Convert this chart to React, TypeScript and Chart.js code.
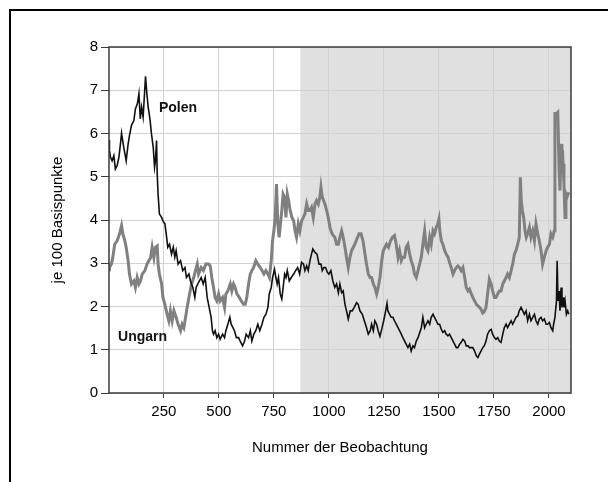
import { useEffect, useRef } from "react";
import { Chart, registerables } from "chart.js";

Chart.register(...registerables);

// Observation numbers and spreads (in 100 basis points)
const polenObs = [1, 3, 8, 15, 23, 30, 38, 46, 53, 58, 68, 79, 88, 94, 103, 114, 121, 130, 137, 143, 149, 156, 167, 173, 179, 187, 194, 202, 208, 212, 217, 220, 224, 230, 240, 246, 255, 261, 268, 276, 285, 293, 300, 306, 315, 326, 336, 346, 353, 364, 371, 382, 391, 397,
  408, 420, 429, 438, 447, 456, 465, 471, 476, 483, 491, 499, 506, 517, 526, 532, 541, 550, 556, 564, 571, 580, 590, 597, 608, 617, 624, 635, 643, 650, 659, 668, 677, 686, 696, 705, 714, 723, 729, 738, 744, 753, 759, 765, 771, 779, 786, 794, 799, 805, 811, 820, 829,
  840, 849, 858, 867, 876, 885, 891, 899, 906, 914, 921, 927, 937, 946, 955, 964, 970, 977, 985, 993, 1000, 1009, 1018, 1027, 1035, 1043, 1050, 1058, 1065, 1073, 1080, 1088, 1097, 1106, 1115, 1126, 1133, 1141, 1152, 1161, 1171, 1179, 1188, 1194, 1202, 1209, 1217, 1224, 1232, 1240, 1249, 1258, 1264,
  1268, 1276, 1283, 1291, 1298, 1306, 1314, 1321, 1329, 1336, 1344, 1351, 1359, 1367, 1374, 1382, 1389, 1397, 1405, 1412, 1420, 1427, 1435, 1442, 1450, 1458, 1465, 1473, 1480, 1488, 1495, 1503, 1511, 1518, 1526, 1533, 1541, 1548, 1556, 1564, 1571, 1579, 1586, 1594, 1601, 1609, 1617, 1624, 1632, 1639, 1647, 1654, 1662, 1670, 1677,
  1684, 1691, 1699, 1706, 1714, 1721, 1729, 1737, 1744, 1752, 1759, 1767, 1774, 1782, 1790, 1797, 1805, 1812, 1820, 1828, 1835, 1843, 1850, 1858, 1865, 1873, 1881, 1888, 1896, 1903, 1911, 1918, 1926, 1934, 1941, 1949, 1956, 1964, 1971, 1979, 1987, 1994, 2002, 2009, 2017, 2021, 2027, 2034, 2037, 2041, 2046, 2050, 2055, 2059, 2064, 2068, 2073, 2079, 2085, 2090];
const polenVal = [5.85, 5.61, 5.45, 5.37, 5.49, 5.18, 5.26, 5.45, 5.76, 6.01, 5.68, 5.37, 5.76, 5.95, 6.19, 6.30, 6.57, 6.69, 6.92, 6.34, 6.61, 6.38, 7.32, 6.92, 6.61, 6.34, 5.99, 5.68, 5.22, 5.37, 5.84, 5.07, 4.60, 4.14, 4.06, 3.98, 3.91, 3.68, 3.37, 3.44, 3.21, 3.37, 3.14, 3.29, 2.98, 3.06, 2.83, 2.90, 2.67, 2.75, 2.59, 2.44, 2.21, 2.44,
  2.56, 2.67, 2.52, 2.67, 2.21, 1.98, 1.75, 1.44, 1.36, 1.44, 1.28, 1.36, 1.24, 1.36, 1.28, 1.44, 1.59, 1.75, 1.59, 1.51, 1.44, 1.28, 1.28, 1.20, 1.09, 1.20, 1.36, 1.28, 1.44, 1.20, 1.36, 1.44, 1.59, 1.44, 1.59, 1.75, 1.82, 1.98, 2.29, 2.44, 2.67, 2.86, 2.67, 2.52, 2.67, 2.29, 2.17, 2.52, 2.75, 2.67, 2.83, 2.59, 2.67,
  2.75, 2.83, 2.90, 2.75, 3.02, 2.98, 2.83, 2.94, 2.83, 3.06, 3.21, 3.33, 3.25, 3.21, 2.98, 2.98, 2.83, 2.90, 2.90, 2.79, 2.75, 2.83, 2.59, 2.44, 2.52, 2.32, 2.52, 2.32, 2.36, 2.05, 1.90, 1.71, 1.90, 1.90, 1.98, 2.09, 2.05, 1.90, 1.82, 1.67, 1.51, 1.36, 1.44, 1.59, 1.44, 1.67, 1.59, 1.44, 1.31, 1.47, 1.67, 1.90, 2.07,
  1.90, 1.82, 1.75, 1.75, 1.67, 1.59, 1.51, 1.44, 1.36, 1.28, 1.20, 1.13, 1.05, 1.13, 0.97, 1.09, 1.05, 1.20, 1.28, 1.39, 1.51, 1.75, 1.51, 1.59, 1.67, 1.59, 1.75, 1.82, 1.75, 1.67, 1.59, 1.59, 1.47, 1.40, 1.44, 1.36, 1.32, 1.36, 1.28, 1.20, 1.13, 1.05, 1.05, 1.13, 1.17, 1.24, 1.20, 1.09, 1.09, 1.05, 1.05, 1.05, 0.97, 0.86, 0.82,
  0.90, 0.97, 1.05, 1.09, 1.20, 1.36, 1.44, 1.47, 1.36, 1.28, 1.24, 1.28, 1.20, 1.17, 1.36, 1.51, 1.59, 1.51, 1.59, 1.67, 1.59, 1.67, 1.75, 1.78, 1.90, 1.98, 1.90, 1.82, 1.90, 1.67, 1.82, 1.67, 1.75, 1.82, 1.67, 1.59, 1.71, 1.75, 1.67, 1.71, 1.59, 1.59, 1.63, 1.51, 1.44, 1.59, 1.75, 2.13, 3.06, 2.13, 2.36, 1.90, 2.44, 1.98, 2.21, 1.98, 2.13, 1.82, 1.90, 1.82];

const ungarnObs = [1, 3, 12, 18, 27, 38, 49, 58, 64, 73, 79, 88, 94, 103, 114, 121, 129, 137, 144, 152, 164, 174, 182, 190, 197, 205, 212, 220, 224, 230, 240, 246, 255, 265, 273, 280, 288, 296, 306, 315, 326, 333, 341, 349, 356, 364, 376, 386, 394, 402,
  408, 420, 430, 441, 453, 461, 468, 476, 483, 491, 499, 506, 517, 526, 532, 541, 552, 559, 567, 574, 582, 593, 602, 612, 620, 627, 635, 643, 650, 658, 668, 677, 688, 696, 705, 714, 723, 730, 738, 744, 750, 756, 762, 768, 774, 780, 786, 792, 798, 805, 811, 817, 824, 832,
  840, 846, 853, 861, 868, 876, 884, 891, 899, 906, 914, 921, 929, 937, 944, 952, 959, 964, 970, 976, 982, 990, 997, 1005, 1012, 1020, 1027, 1035, 1043, 1050, 1058, 1065, 1073, 1080, 1088, 1096, 1103, 1111, 1118, 1127, 1137, 1146, 1155, 1164, 1171, 1179, 1187, 1194, 1202, 1209, 1217, 1224, 1232, 1240, 1247, 1255,
  1262, 1271, 1280, 1289, 1298, 1306, 1314, 1321, 1329, 1336, 1344, 1351, 1359, 1367, 1374, 1382, 1389, 1397, 1405, 1412, 1420, 1427, 1435, 1442, 1450, 1458, 1465, 1473, 1480, 1488, 1495, 1500, 1504, 1511, 1518, 1526, 1533, 1541, 1548, 1556, 1564, 1571, 1579, 1586, 1594, 1601, 1609, 1617, 1624, 1632, 1639, 1647, 1654, 1662, 1670,
  1684, 1691, 1699, 1706, 1714, 1721, 1729, 1737, 1744, 1752, 1759, 1767, 1774, 1782, 1790, 1797, 1805, 1812, 1820, 1828, 1835, 1843, 1850, 1858, 1865, 1870, 1874, 1879, 1885, 1891, 1897, 1903, 1911, 1918, 1926, 1934, 1941, 1949, 1956, 1964, 1971, 1979, 1987, 1994, 2002, 2009, 2017, 2024, 2027, 2034, 2040, 2046, 2050, 2055, 2059, 2064, 2068, 2073, 2077, 2082, 2090];
const ungarnVal = [2.85, 2.90, 2.98, 3.13, 3.44, 3.52, 3.68, 3.87, 3.68, 3.52, 3.37, 3.06, 2.75, 2.52, 2.59, 2.44, 2.67, 2.52, 2.59, 2.75, 2.83, 2.98, 3.06, 3.13, 3.37, 3.13, 3.37, 3.40, 2.98, 2.75, 2.52, 2.21, 2.05, 1.82, 1.67, 1.90, 1.67, 1.90, 1.75, 1.59, 1.44, 1.59, 1.51, 1.75, 1.98, 2.21, 2.52, 2.67, 2.83, 2.98,
  2.75, 2.90, 2.83, 2.98, 2.98, 2.94, 2.67, 2.44, 2.21, 2.13, 2.29, 2.13, 2.21, 1.98, 2.29, 2.36, 2.52, 2.36, 2.52, 2.44, 2.29, 2.21, 2.13, 2.05, 2.05, 2.21, 2.52, 2.75, 2.83, 2.90, 3.06, 2.98, 2.90, 2.83, 2.75, 2.83, 2.75, 2.67, 3.06, 3.52, 3.75, 4.06, 4.83, 3.91, 3.60, 3.91, 4.22, 4.60, 4.53, 4.06, 4.60, 4.45, 4.22, 4.06,
  3.98, 3.75, 3.60, 3.91, 3.75, 3.98, 4.06, 4.14, 4.37, 4.22, 4.22, 4.29, 4.06, 4.37, 4.45, 4.37, 4.53, 4.76, 4.53, 4.45, 4.37, 4.22, 4.06, 3.83, 3.71, 3.64, 3.60, 3.44, 3.44, 3.60, 3.75, 3.60, 3.37, 3.14, 2.90, 3.14, 3.29, 3.37, 3.44, 3.56, 3.68, 3.68, 3.52, 3.21, 2.98, 2.75, 2.67, 2.67, 2.52, 2.44, 2.29, 2.44, 2.67, 3.06, 3.29, 3.37,
  3.44, 3.37, 3.52, 3.60, 3.64, 3.44, 3.14, 3.29, 3.06, 3.14, 3.14, 3.37, 3.44, 3.21, 3.06, 2.94, 2.75, 2.67, 2.83, 2.98, 3.14, 3.44, 3.75, 3.37, 3.29, 3.60, 3.44, 3.75, 3.68, 3.83, 3.91, 4.02, 3.75, 3.52, 3.44, 3.29, 3.21, 3.14, 3.02, 2.90, 2.75, 2.83, 2.90, 2.94, 2.90, 2.83, 2.90, 2.67, 2.44, 2.36, 2.40, 2.29, 2.21, 2.13, 2.05,
  1.98, 1.94, 1.85, 1.88, 1.98, 2.29, 2.63, 2.52, 2.36, 2.21, 2.21, 2.29, 2.36, 2.36, 2.52, 2.59, 2.67, 2.75, 2.67, 2.83, 2.98, 3.21, 3.29, 3.44, 3.60, 4.99, 4.45, 4.22, 4.06, 3.75, 3.60, 3.68, 3.83, 3.60, 3.75, 3.52, 3.91, 3.68, 3.52, 3.29, 2.98, 3.14, 3.29, 3.37, 3.44, 3.68, 3.60, 3.75, 6.46, 6.46, 6.49, 5.14, 4.68, 5.76, 5.14, 5.30, 4.83, 4.06, 4.60, 4.53, 4.64];

const xTicks = [250, 500, 750, 1000, 1250, 1500, 1750, 2000];
const yTicks = [0, 1, 2, 3, 4, 5, 6, 7, 8];
const shadeStart = 870;
const seriesNames = ["Polen", "Ungarn"];
const labelObs = [228, 42];
const labelVal = [6.58, 1.29];
const xTitle = "Nummer der Beobachtung";
const yTitle = "je 100 Basispunkte";

const FONT = '"Liberation Sans", Arial, sans-serif';

const decor = {
  id: "decor",
  beforeDraw(chart: any) {
    const { ctx, chartArea: a, scales } = chart;
    const sx = scales.x.getPixelForValue(shadeStart);
    ctx.save();
    ctx.fillStyle = "#e0e0e0";
    ctx.fillRect(sx, a.top, a.right - sx, a.bottom - a.top);
    ctx.restore();
  },
  afterDraw(chart: any) {
    const { ctx, chartArea: a, scales } = chart;
    ctx.save();
    ctx.strokeStyle = "#3a3a3a";
    ctx.lineWidth = 1.5;
    ctx.strokeRect(a.left, a.top, a.right - a.left, a.bottom - a.top);
    ctx.fillStyle = "#111";
    ctx.font = `bold 14px ${FONT}`;
    ctx.textAlign = "left";
    ctx.textBaseline = "middle";
    seriesNames.forEach((n, i) => {
      ctx.fillText(n, scales.x.getPixelForValue(labelObs[i]), scales.y.getPixelForValue(labelVal[i]));
    });
    ctx.fillStyle = "#000";
    ctx.fillRect(9, 9, 620, 2);
    ctx.fillRect(9, 9, 2, 480);
    ctx.restore();
  },
};

export default function App() {
  const ref = useRef<HTMLCanvasElement>(null);
  useEffect(() => {
    if (!ref.current) return;
    const chart = new Chart(ref.current, {
      type: "line",
      data: {
        datasets: [
          {
            label: seriesNames[0],
            data: polenObs.map((x, i) => ({ x, y: polenVal[i] })),
            borderColor: "#111111",
            borderWidth: 1.6,
            pointRadius: 0,
            tension: 0,
          },
          {
            label: seriesNames[1],
            data: ungarnObs.map((x, i) => ({ x, y: ungarnVal[i] })),
            borderColor: "#808080",
            borderWidth: 3,
            pointRadius: 0,
            tension: 0,
          },
        ],
      },
      options: {
        animation: false,
        responsive: false,
        devicePixelRatio: 1,
        layout: { padding: { top: 47, right: 37, left: 0, bottom: 0 } },
        plugins: { legend: { display: false }, tooltip: { enabled: false } },
        scales: {
          x: {
            type: "linear",
            min: 1,
            max: 2100,
            afterBuildTicks: (s: any) => {
              s.ticks = xTicks.map((v) => ({ value: v }));
            },
            afterFit: (s: any) => {
              s.height = 89;
            },
            grid: { color: "#d2d2d2", lineWidth: 1, tickLength: 5, tickColor: "#3a3a3a" },
            border: { display: false },
            ticks: {
              font: { family: FONT, size: 15 },
              color: "#000",
              padding: 5,
              maxRotation: 0,
              autoSkip: false,
              callback: (v: any) => String(v),
            },
            title: { display: true, text: xTitle, font: { family: FONT, size: 15 }, color: "#000", padding: { top: 0, bottom: 25 } },
          },
          y: {
            type: "linear",
            min: 0,
            max: 8,
            afterBuildTicks: (s: any) => {
              s.ticks = yTicks.map((v) => ({ value: v }));
            },
            afterFit: (s: any) => {
              s.width = 109;
            },
            grid: { color: "#d2d2d2", lineWidth: 1, tickLength: 8, tickColor: "#3a3a3a" },
            border: { display: false },
            ticks: { font: { family: FONT, size: 15 }, color: "#000", padding: 3, callback: (v: any) => String(v) },
            title: { display: true, text: yTitle, font: { family: FONT, size: 15 }, color: "#000", padding: { top: 49, bottom: 0 } },
          },
        },
      },
      plugins: [decor],
    });
    return () => chart.destroy();
  }, []);
  return (
    <div style={{ position: "absolute", left: 0, top: 0, width: 608, height: 482, background: "#fff" }}>
      <canvas ref={ref} width={608} height={482} style={{ display: "block" }} />
    </div>
  );
}
